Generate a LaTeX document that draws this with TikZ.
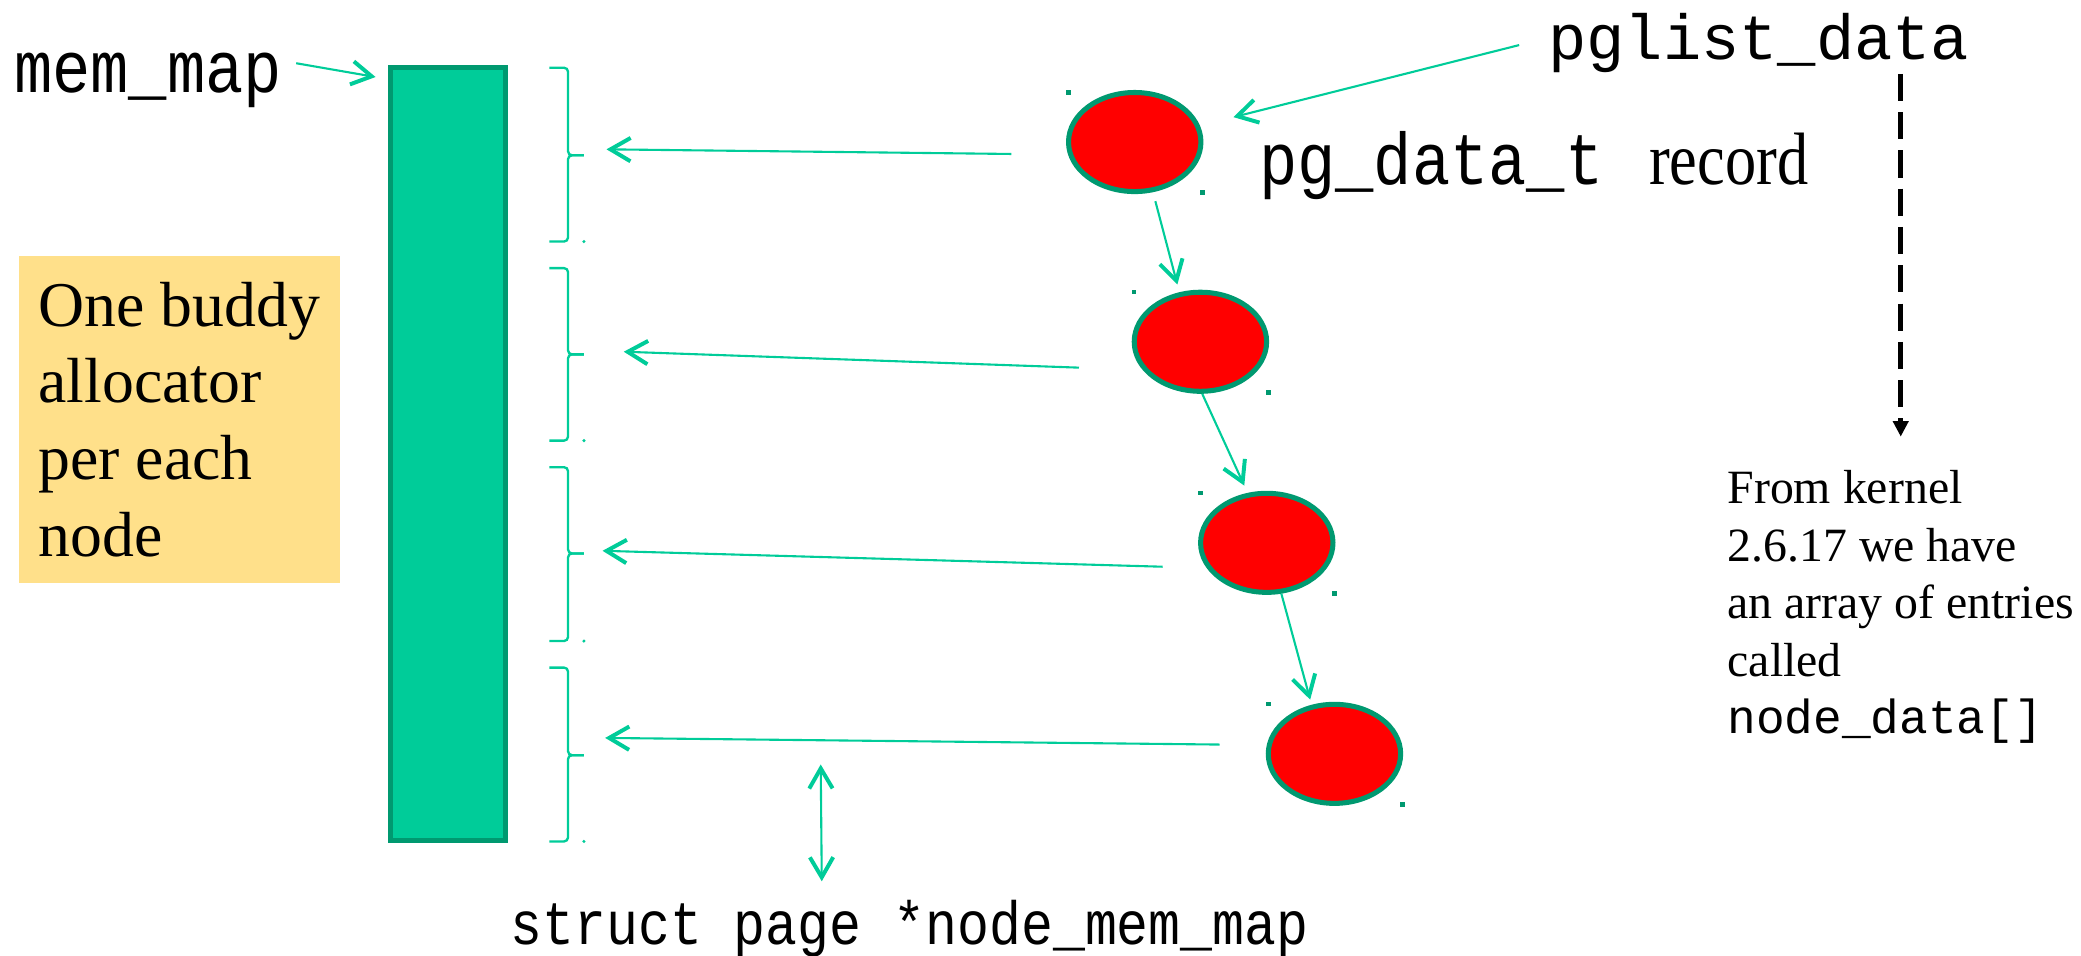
\documentclass[tikz,border=0pt]{standalone}
\usepackage{fontspec}
\setmainfont{Liberation Serif}
\setmonofont{Liberation Mono}
\newfontfamily\narrowmono[FakeStretch=0.87]{Liberation Mono}
\newfontfamily\narrowserif[FakeStretch=0.84]{Liberation Serif}
\usetikzlibrary{shapes.geometric}
\usetikzlibrary{arrows.meta}
\usetikzlibrary{positioning}
\usetikzlibrary{calc}
\definecolor{memgreen}{HTML}{00CC99}
\definecolor{memborder}{HTML}{009970}
\definecolor{notefill}{HTML}{FFE08A}
\tikzset{
    barb/.tip = {Straight Barb[length=4.3pt, width=5pt, line width=0.85pt]},
    label text/.style = {inner sep=0, anchor=base west},
    memory/.style = {draw=memborder, fill=memgreen, line width=1.08pt,
                     inner sep=0, minimum width=8.68mm, minimum height=58.22mm
    },
    pgdata/.style = {ellipse, draw=memborder, fill=red, line width=1.08pt,
                     inner sep=0, minimum width=9.97mm, minimum height=7.46mm
    },
    handle/.style = {fill=memborder},
    bracket/.style = {draw=memgreen, line width=0.5pt, rounded corners=0.3mm},
    link/.style = {draw=memgreen, line width=0.45pt, -barb},
    twoway/.style = {draw=memgreen, line width=0.45pt, barb-barb},
    pointer/.style = {draw=black, line width=1pt, dash pattern=on 5.8pt off 2.4pt,
                      -{Triangle[length=3.3pt, width=3.2pt]}
    },
    notebox/.style = {fill=notefill, anchor=north west, align=left,
                      inner xsep=1.5mm, inner ysep=0, minimum height=24.62mm,
                      font=\fontsize{13.66pt}{16.42pt}\selectfont
    },
    kernel text/.style = {inner sep=0, anchor=north west, align=left,
                          font=\fontsize{10.24pt}{12.32pt}\selectfont
    },
    big code/.style = {font=\narrowmono\fontsize{15.7pt}{18pt}\selectfont},
}

\begin{document}
\begin{tikzpicture}[x=0.01cm, y=-0.01cm]
    \useasboundingbox (0,0) rectangle (1568,720);

    % memory map and its per-node parts
    \node (mem) [memory, anchor=north west] at (292,49) {};
    \foreach \i/\top/\mid/\bot in {1/51/117/182, 2/202/267/332,
                                   3/352/417/483, 4/503/569/634} {
        \draw[bracket] (414,\top) -| (428,\mid) -- (440,\mid);
        \draw[bracket] (440,\mid) -- (428,\mid) |- (414,\bot);
        \fill[memgreen] (440,\bot) circle (1.3);
    }

    % labels
    \node (memmap) [label text, big code] at (10,69.8) {mem\_map};
    \node (pglist) [label text, font=\ttfamily\fontsize{13.66pt}{16pt}\selectfont]
          at (1166,45) {pglist\_data};
    \node (pgdt) [label text, big code] at (948,139) {pg\_data\_t};
    \node (record) [label text, base right=3.3mm of pgdt,
                    font=\narrowserif\fontsize{15.9pt}{18pt}\selectfont] {record};
    \node (ptrlabel) [label text, font=\narrowmono\fontsize{13.1pt}{15pt}\selectfont]
          at (384,712) {struct page *node\_mem\_map};
    \node (buddy) [notebox] at (13.3,192.2) {One buddy\\allocator\\per each\\node};
    \node (kernel) [kernel text] at (1301,354)
          {From kernel\\2.6.17 we have\\an array of entries\\called\\\texttt{node\_data[]}};

    % pg_data_t records
    \foreach \i/\cx/\cy in {1/855/107, 2/904.5/257.5, 3/954.5/409, 4/1005.5/568} {
        \node (e\i) [pgdata] at (\cx,\cy) {};
        \fill[handle] ($(e\i)+(-50,-37.5)$) +(-1.8,-1.8) rectangle +(1.8,1.8);
        \fill[handle] ($(e\i)+(51,38)$) +(-1.8,-1.8) rectangle +(1.8,1.8);
    }
    \draw[link, shorten <=0.7mm, shorten >=0.6mm] (e1.290) -- (e2.113);
    \draw[link, shorten >=0.6mm] (e2.272) -- (e3.111);
    \draw[link, shorten >=0.4mm] (e3.286) -- (e4.115);

    % records point at their part of mem_map
    \foreach \i/\sx/\sy/\tx/\ty in {1/762/116/457/112.5, 2/813/277/470/265,
                                    3/876/427/454/415, 4/919/561/456/556} {
        \coordinate (src\i) at (\sx,\sy);
        \coordinate (dst\i) at (\tx,\ty);
        \draw[link] (src\i) -- (dst\i);
    }

    \draw[link] ([xshift=1mm, yshift=1.3mm]memmap.east)
             -- ([xshift=-0.9mm, yshift=-0.9mm]mem.north west);
    \draw[link, shorten <=2.2mm, shorten >=2.6mm] ([yshift=0.4mm]pglist.west) -- (e1);
    \draw[pointer, shorten >=2.5mm] (kernel.north |- pglist.south) -- (kernel.north);

    \coordinate (ptrtop) at (618.4,576);
    \coordinate (ptrbot) at (619.2,664);
    \draw[twoway] (ptrtop) -- (ptrbot);
\end{tikzpicture}
\end{document}
